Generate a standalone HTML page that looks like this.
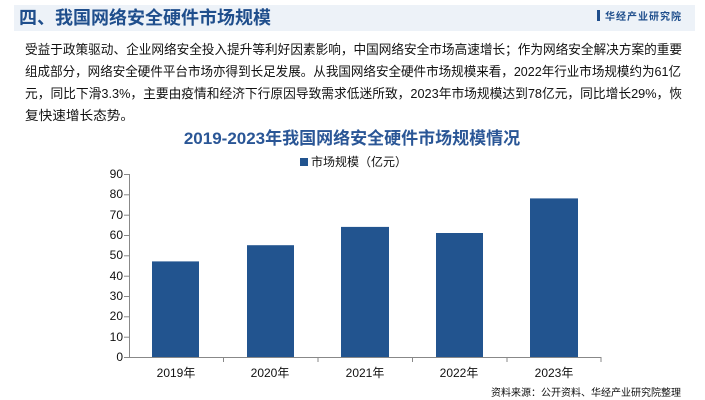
<!DOCTYPE html>
<html><head><meta charset="utf-8"><style>
body{margin:0;width:705px;height:400px;background:#fff;overflow:hidden;font-family:"Liberation Sans","Noto Sans CJK SC",sans-serif;position:relative}
.hdr{position:absolute;left:14px;top:5px;width:681px;height:26px;background:#edf2f8}
.hdr .t{position:absolute;left:5px;top:0;line-height:26px;font-size:18px;font-weight:bold;color:#1f4e8c}
.hdr .l{position:absolute;right:13px;top:0;line-height:26px;font-size:10px;font-weight:bold;color:#1f4e8c;letter-spacing:1px}
</style></head><body>
<div class="hdr"><div class="t">四、我国网络安全硬件市场规模</div><div class="l"><span style="display:inline-block;width:3px;height:11px;background:#1f4e8c;margin-right:5px;vertical-align:-1px"></span>华经产业研究院</div></div>
<svg width="705" height="400" style="position:absolute;left:0;top:0" font-family="Liberation Sans,Noto Sans CJK SC,sans-serif">
<g font-size="13" fill="#111" lengthAdjust="spacingAndGlyphs">
<text x="25" y="54" textLength="657" lengthAdjust="spacingAndGlyphs">受益于政策驱动、企业网络安全投入提升等利好因素影响，中国网络安全市场高速增长；作为网络安全解决方案的重要</text>
<text x="25" y="76" textLength="656" lengthAdjust="spacingAndGlyphs">组成部分，网络安全硬件平台市场亦得到长足发展。从我国网络安全硬件市场规模来看，2022年行业市场规模约为61亿</text>
<text x="25" y="98" textLength="657" lengthAdjust="spacingAndGlyphs">元，同比下滑3.3%，主要由疫情和经济下行原因导致需求低迷所致，2023年市场规模达到78亿元，同比增长29%，恢</text>
<text x="25" y="120" textLength="109" lengthAdjust="spacingAndGlyphs">复快速增长态势。</text>
</g>
<text x="352" y="144" text-anchor="middle" font-size="17" font-weight="bold" fill="#2a5696">2019-2023年我国网络安全硬件市场规模情况</text>
<rect x="300" y="158" width="8" height="8" fill="#22548f"/>
<text x="311" y="166" font-size="12" fill="#111">市场规模（亿元）</text>
<g font-size="12" fill="#111" text-anchor="end">
<text x="123" y="361">0</text><text x="123" y="341">10</text><text x="123" y="320">20</text><text x="123" y="300">30</text><text x="123" y="280">40</text><text x="123" y="259">50</text><text x="123" y="239">60</text><text x="123" y="219">70</text><text x="123" y="198">80</text><text x="123" y="178">90</text>
</g>
<g stroke="#888" stroke-width="1">
<line x1="129.5" y1="174" x2="129.5" y2="357"/>
<line x1="129" y1="357.5" x2="601" y2="357.5"/>
<line x1="124" y1="357.5" x2="129" y2="357.5"/><line x1="124" y1="337.2" x2="129" y2="337.2"/><line x1="124" y1="316.8" x2="129" y2="316.8"/><line x1="124" y1="296.5" x2="129" y2="296.5"/><line x1="124" y1="276.2" x2="129" y2="276.2"/><line x1="124" y1="255.8" x2="129" y2="255.8"/><line x1="124" y1="235.5" x2="129" y2="235.5"/><line x1="124" y1="215.2" x2="129" y2="215.2"/><line x1="124" y1="194.8" x2="129" y2="194.8"/><line x1="124" y1="174.5" x2="129" y2="174.5"/>
<line x1="223.5" y1="357" x2="223.5" y2="362"/><line x1="318" y1="357" x2="318" y2="362"/><line x1="412.5" y1="357" x2="412.5" y2="362"/><line x1="507" y1="357" x2="507" y2="362"/><line x1="601" y1="357" x2="601" y2="362"/>
</g>
<g fill="#22548f">
<rect x="152" y="261.4" width="47" height="95.6"/>
<rect x="247" y="245.2" width="47" height="111.8"/>
<rect x="341" y="226.9" width="48" height="130.1"/>
<rect x="436" y="233" width="47" height="124"/>
<rect x="530" y="198.4" width="48" height="158.6"/>
</g>
<g font-size="12" fill="#111" text-anchor="middle">
<text x="176" y="377">2019年</text><text x="270" y="377">2020年</text><text x="365" y="377">2021年</text><text x="459" y="377">2022年</text><text x="554" y="377">2023年</text>
</g>
<text x="681" y="396" text-anchor="end" font-size="10" fill="#111">资料来源：公开资料、华经产业研究院整理</text>
</svg>
</body></html>
